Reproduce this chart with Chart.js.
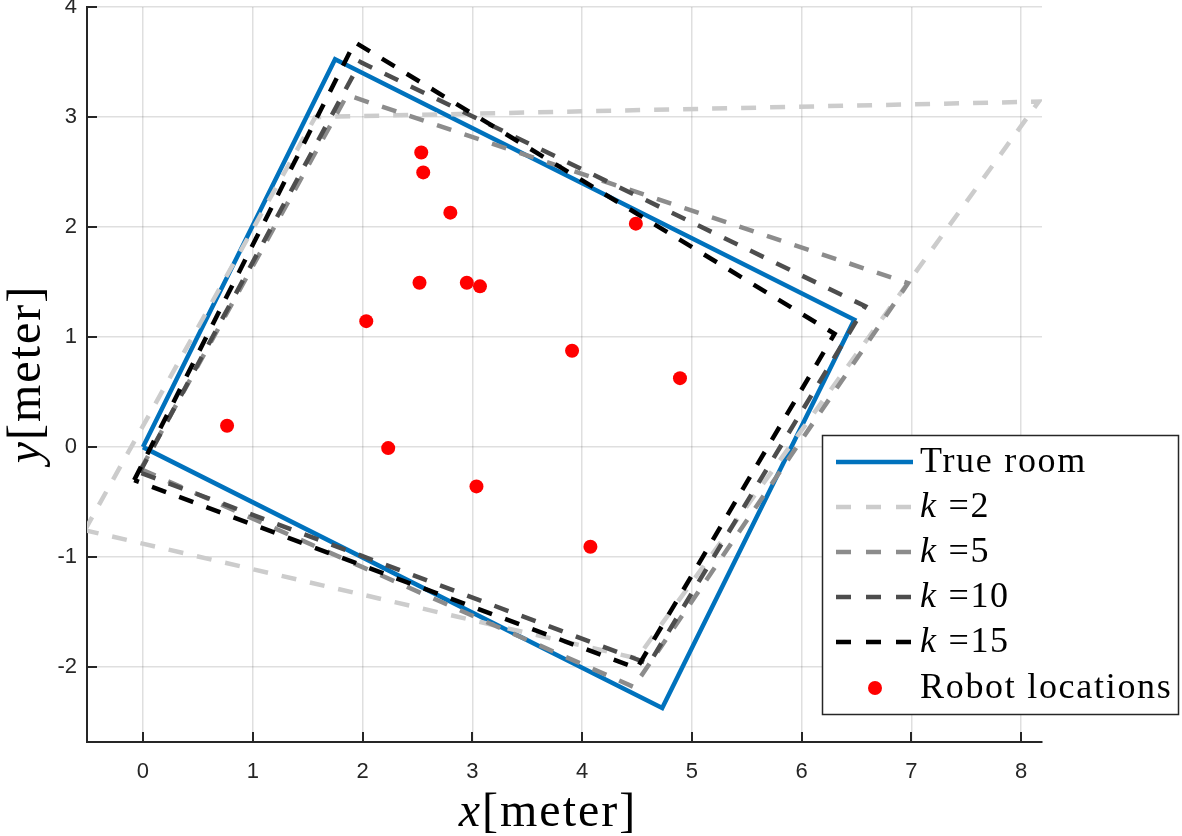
<!DOCTYPE html>
<html><head><meta charset="utf-8">
<script src="https://cdn.jsdelivr.net/npm/chart.js@4.4.1/dist/chart.umd.min.js"></script>
<style>html,body{margin:0;padding:0;background:#fff;}canvas{display:block;}</style>
</head><body>
<canvas id="c" width="1182" height="836"></canvas>
<script>
// ---- data ----
const xTicks = [0, 1, 2, 3, 4, 5, 6, 7, 8];
const yTicks = [-2, -1, 0, 1, 2, 3, 4];
const xRange = [-0.51, 8.19];
const yRange = [-2.68, 4];

const trueRoomX = [0, 1.75, 6.48, 4.73, 0];
const trueRoomY = [0, 3.525, 1.158, -2.37, 0];
const k2X = [-0.53, 1.57, 8.16, 4.50, -0.53];
const k2Y = [-0.755, 3.0, 3.14, -1.92, -0.755];
const k5X = [-0.02, 1.86, 6.97, 4.47, -0.02];
const k5Y = [-0.20, 3.20, 1.49, -2.18, -0.20];
const k10X = [-0.03, 1.98, 6.58, 4.61, -0.03];
const k10Y = [-0.23, 3.50, 1.28, -1.97, -0.23];
const k15X = [-0.08, 1.93, 6.30, 4.50, -0.08];
const k15Y = [-0.30, 3.68, 1.03, -2.01, -0.30];
const robotX = [0.766, 2.034, 2.234, 2.519, 2.535, 2.553, 2.80, 2.95, 3.07, 3.038, 3.909, 4.076, 4.49, 4.892];
const robotY = [0.194, 1.145, -0.009, 1.494, 2.678, 2.497, 2.131, 1.494, 1.461, -0.357, 0.876, -0.905, 2.031, 0.627];

const kValues = ['2', '5', '10', '15'];
const seriesNames = ['True room', 'k', 'k', 'k', 'k', 'Robot locations'];

// ---- styles ----
const TXT = '#262626';
const grays = ['rgb(204,204,204)', 'rgb(140,140,140)', 'rgb(77,77,77)', 'rgb(0,0,0)'];
const dash = [15, 14];

function zip(xs, ys) { return xs.map((x, i) => ({ x: x, y: ys[i] })); }

function lineDs(label, xs, ys, color, dashed, order) {
  return {
    label: label, data: zip(xs, ys), showLine: true, fill: false, tension: 0,
    borderColor: color, backgroundColor: color, borderWidth: 4.5,
    borderDash: dashed ? dash : [], borderJoinStyle: 'miter', borderCapStyle: 'butt',
    pointRadius: 0, pointHoverRadius: 0, clip: 0, order: order
  };
}

const datasets = [
  lineDs('True room', trueRoomX, trueRoomY, '#0072BD', false, 6),
  lineDs('k =' + kValues[0], k2X, k2Y, grays[0], true, 5),
  lineDs('k =' + kValues[1], k5X, k5Y, grays[1], true, 4),
  lineDs('k =' + kValues[2], k10X, k10Y, grays[2], true, 3),
  lineDs('k =' + kValues[3], k15X, k15Y, grays[3], true, 2),
  {
    label: 'Robot locations', data: zip(robotX, robotY), showLine: false,
    pointRadius: 7, pointHoverRadius: 7, pointBackgroundColor: '#ff0000',
    pointBorderWidth: 0, borderColor: '#ff0000', backgroundColor: '#ff0000', order: 1
  }
];

function setText(ctx, style, size, spacing) {
  ctx.font = style + ' ' + size + 'px "Liberation Serif", "Times New Roman", serif';
  try { ctx.letterSpacing = spacing + 'px'; } catch (e) {}
}

function drawParts(ctx, parts, x, y, size, spacing) {
  let cx = x;
  parts.forEach(p => {
    setText(ctx, p.italic ? 'italic' : 'normal', size, spacing);
    ctx.fillText(p.t, cx, y);
    cx += ctx.measureText(p.t).width;
  });
  return cx - x;
}
function partsWidth(ctx, parts, size, spacing) {
  let w = 0;
  parts.forEach(p => { setText(ctx, p.italic ? 'italic' : 'normal', size, spacing); w += ctx.measureText(p.t).width; });
  return w;
}

const overlay = {
  id: 'overlay',
  afterDraw(chart) {
    const ctx = chart.ctx, ca = chart.chartArea;
    const xs = chart.scales.x, ys = chart.scales.y;
    ctx.save();
    // inner ticks
    ctx.strokeStyle = TXT; ctx.lineWidth = 2;
    ctx.beginPath();
    xTicks.forEach(v => { const p = Math.round(xs.getPixelForValue(v)); ctx.moveTo(p, ca.bottom); ctx.lineTo(p, ca.bottom - 10); });
    yTicks.forEach(v => { const p = Math.round(ys.getPixelForValue(v)); ctx.moveTo(ca.left, p); ctx.lineTo(ca.left + 10, p); });
    ctx.stroke();

    // axis titles
    ctx.fillStyle = '#000';
    ctx.textBaseline = 'alphabetic'; ctx.textAlign = 'left';
    const tSize = 48, tSp = 2;
    const xParts = [{ t: 'x', italic: true }, { t: '[meter]', italic: false }];
    const wx = partsWidth(ctx, xParts, tSize, tSp);
    drawParts(ctx, xParts, 548 - wx / 2, 826, tSize, tSp);
    const yParts = [{ t: 'y', italic: true }, { t: '[meter]', italic: false }];
    const wy = partsWidth(ctx, yParts, tSize, tSp);
    ctx.save();
    ctx.translate(40, 374);
    ctx.rotate(-Math.PI / 2);
    drawParts(ctx, yParts, -wy / 2, 0, tSize, tSp);
    ctx.restore();

    // legend
    const L = 822, T = 435, R = 1179, B = 715;
    try { ctx.letterSpacing = '0px'; } catch (e) {}
    ctx.fillStyle = '#fff';
    ctx.fillRect(L, T, R - L, B - T);
    ctx.strokeStyle = TXT; ctx.lineWidth = 1.5;
    ctx.strokeRect(L + 0.5, T + 0.5, R - L - 1, B - T - 1);
    const rows = [462, 507, 552, 597, 642, 688];
    const lSize = 36, lSp = 1.7;
    chart.data.datasets.forEach((ds, i) => {
      const yy = rows[i];
      if (ds.showLine) {
        ctx.save();
        ctx.strokeStyle = ds.borderColor; ctx.lineWidth = ds.borderWidth;
        ctx.setLineDash(ds.borderDash && ds.borderDash.length ? [15, 15] : []); ctx.lineCap = 'butt';
        ctx.beginPath(); ctx.moveTo(836, yy); ctx.lineTo(913, yy); ctx.stroke();
        ctx.restore();
      } else {
        ctx.fillStyle = ds.pointBackgroundColor;
        ctx.beginPath(); ctx.arc(875, yy, 7, 0, Math.PI * 2); ctx.fill();
      }
      ctx.fillStyle = '#000';
      let parts;
      if (i >= 1 && i <= 4) parts = [{ t: 'k', italic: true }, { t: ' =' + kValues[i - 1], italic: false }];
      else parts = [{ t: seriesNames[i], italic: false }];
      drawParts(ctx, parts, 920, yy + 10, lSize, lSp);
    });
    ctx.restore();
  }
};

new Chart(document.getElementById('c'), {
  type: 'scatter',
  data: { datasets: datasets },
  options: {
    responsive: false, animation: false, devicePixelRatio: 1,
    layout: { padding: { top: 7, right: 140, left: 0, bottom: 0 } },
    plugins: { legend: { display: false }, tooltip: { enabled: false } },
    scales: {
      x: {
        type: 'linear', min: xRange[0], max: xRange[1],
        afterBuildTicks: s => { s.ticks = xTicks.map(v => ({ value: v })); },
        afterFit: s => { s.height = 94; s.paddingLeft = 0; s.paddingRight = 0; },
        grid: { color: 'rgba(38,38,38,0.15)', lineWidth: 1.5, drawTicks: false },
        border: { display: true, color: TXT, width: 2 },
        ticks: { padding: 17, color: TXT, font: { family: '"Liberation Sans Narrow", "Liberation Sans", Arial, sans-serif', size: 22 }, maxRotation: 0, autoSkip: false }
      },
      y: {
        type: 'linear', min: yRange[0], max: yRange[1],
        afterBuildTicks: s => { s.ticks = yTicks.map(v => ({ value: v })); },
        afterFit: s => { s.width = 87; s.paddingTop = 0; s.paddingBottom = 0; },
        grid: { color: 'rgba(38,38,38,0.15)', lineWidth: 1.5, drawTicks: false },
        border: { display: true, color: TXT, width: 2 },
        ticks: { padding: 10, color: TXT, font: { family: '"Liberation Sans Narrow", "Liberation Sans", Arial, sans-serif', size: 22 }, autoSkip: false }
      }
    }
  },
  plugins: [overlay]
});
</script>
</body></html>
